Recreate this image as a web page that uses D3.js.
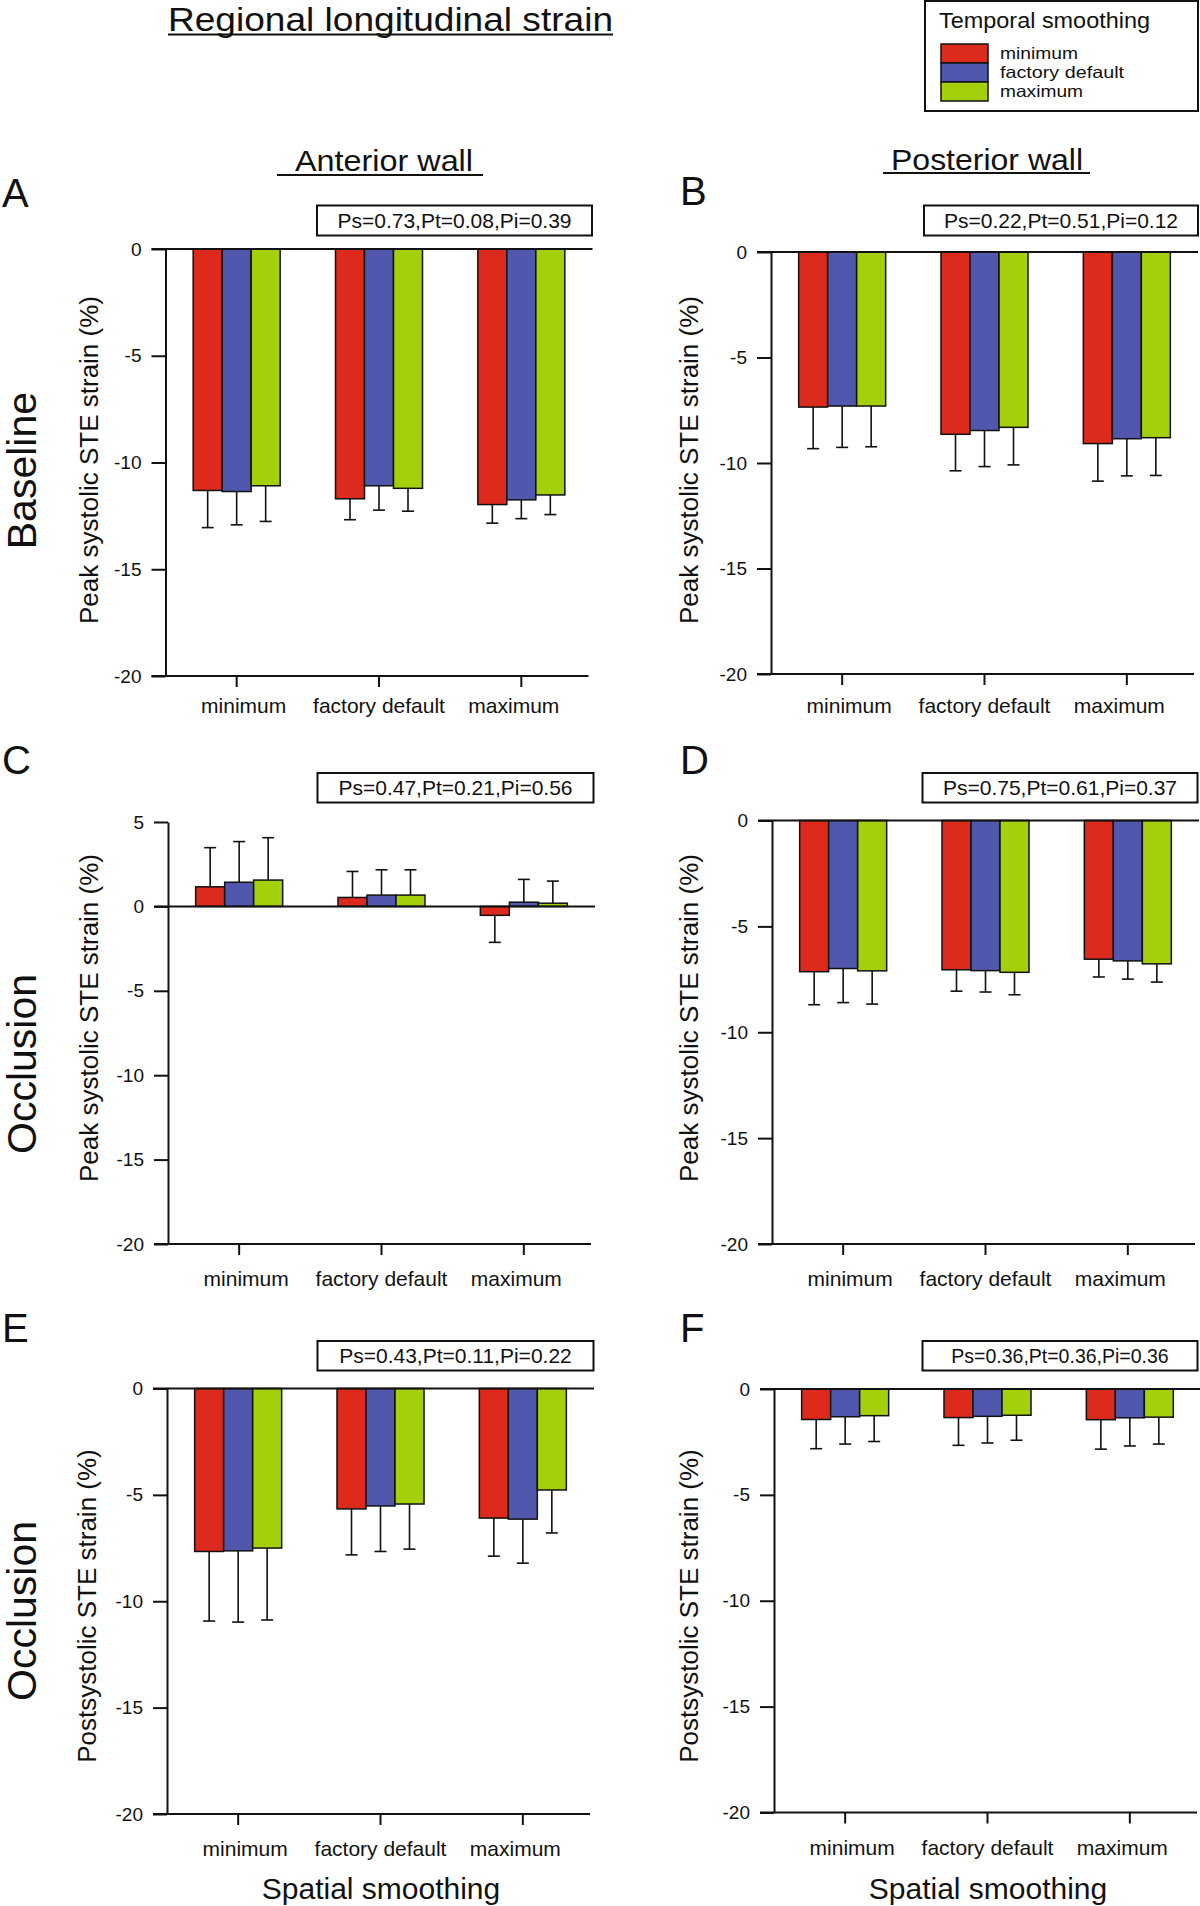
<!DOCTYPE html>
<html>
<head>
<meta charset="utf-8">
<script src="https://d3js.org/d3.v7.min.js"></script>
<style>
  body { margin: 0; background: #fff; }
  svg { font-family: "Liberation Sans", Arial, sans-serif; }
  text { fill: #111; }
</style>
</head>
<body>
<script>
// x categories = spatial smoothing, bar series = temporal smoothing
var categories = ["minimum", "factory default", "maximum"];
var series = ["minimum", "factory default", "maximum"];
var seriesColors = ["#dc2a1c", "#5257ae", "#a3cf0b"];

// mean strain (%) — one row per spatial level: [temporal min, default, max]
var meanA = [[-11.31, -11.36, -11.09], [-11.70, -11.09, -11.21], [-11.97, -11.75, -11.52]];
var sdA   = [[1.74, 1.56, 1.67], [0.98, 1.14, 1.07], [0.87, 0.88, 0.92]];
var meanB = [[-7.35, -7.30, -7.30], [-8.64, -8.46, -8.31], [-9.08, -8.85, -8.80]];
var sdB   = [[1.97, 1.96, 1.93], [1.73, 1.71, 1.78], [1.78, 1.76, 1.79]];
var meanC = [[1.16, 1.43, 1.56], [0.53, 0.67, 0.67], [-0.53, 0.25, 0.19]];
var sdC   = [[2.32, 2.41, 2.51], [1.54, 1.50, 1.50], [1.60, 1.35, 1.31]];
var meanD = [[-7.14, -6.99, -7.10], [-7.05, -7.09, -7.17], [-6.55, -6.63, -6.77]];
var sdD   = [[1.56, 1.61, 1.57], [1.01, 1.01, 1.06], [0.84, 0.86, 0.86]];
var meanE = [[-7.66, -7.63, -7.50], [-5.66, -5.52, -5.43], [-6.09, -6.14, -4.77]];
var sdE   = [[3.27, 3.35, 3.38], [2.16, 2.14, 2.12], [1.79, 2.07, 2.02]];
var meanF = [[-1.44, -1.31, -1.26], [-1.35, -1.29, -1.24], [-1.45, -1.36, -1.33]];
var sdF   = [[1.38, 1.29, 1.22], [1.31, 1.26, 1.18], [1.39, 1.33, 1.27]];

var pValues = ["Ps=0.73,Pt=0.08,Pi=0.39", "Ps=0.22,Pt=0.51,Pi=0.12",
               "Ps=0.47,Pt=0.21,Pi=0.56", "Ps=0.75,Pt=0.61,Pi=0.37",
               "Ps=0.43,Pt=0.11,Pi=0.22", "Ps=0.36,Pt=0.36,Pi=0.36"];
var yTicks = [0, -5, -10, -15, -20];
var yTicksPos = [5, 0, -5, -10, -15, -20];
var peakLabel = "Peak systolic STE strain (%)";
var postLabel = "Postsystolic STE strain (%)";

var width = 1200, height = 1906;
var svg = d3.select("body").append("svg")
  .attr("width", width)
  .attr("height", height);

// layout of the six panels
var panels = [
  {letter: "A", mean: meanA, sd: sdA, p: pValues[0], ylab: peakLabel, ticks: yTicks,
   x0: 165.5, yTop: 249, yBot: 676, lx: 2, ly: 207, labX: 98, labY: 460, box: [317, 205.5, 275, 30], catOff: 37, pfs: 21},
  {letter: "B", mean: meanB, sd: sdB, p: pValues[1], ylab: peakLabel, ticks: yTicks,
   x0: 771, yTop: 252, yBot: 674, lx: 680, ly: 205, labX: 698, labY: 460, box: [924, 205.5, 274, 30], catOff: 39, pfs: 21},
  {letter: "C", mean: meanC, sd: sdC, p: pValues[2], ylab: peakLabel, ticks: yTicksPos,
   x0: 168, yTop: 822, yBot: 1244, lx: 2, ly: 774, labX: 98, labY: 1018, box: [317.5, 773, 276, 29.5], catOff: 42, pfs: 21},
  {letter: "D", mean: meanD, sd: sdD, p: pValues[3], ylab: peakLabel, ticks: yTicks,
   x0: 772, yTop: 820.5, yBot: 1244, lx: 680, ly: 774, labX: 698, labY: 1018, box: [922.5, 773, 275, 29.5], catOff: 42, pfs: 21},
  {letter: "E", mean: meanE, sd: sdE, p: pValues[4], ylab: postLabel, ticks: yTicks,
   x0: 167, yTop: 1388.5, yBot: 1814, lx: 2, ly: 1342, labX: 96, labY: 1606, box: [317.5, 1341, 276, 29.5], catOff: 42, pfs: 21},
  {letter: "F", mean: meanF, sd: sdF, p: pValues[5], ylab: postLabel, ticks: yTicks,
   x0: 774, yTop: 1389, yBot: 1812.5, lx: 680, ly: 1342, labX: 698, labY: 1606, box: [922.5, 1341, 275, 29.5], catOff: 42, pfs: 19.5}
];

var plotW = 427;
var catFont = 21;
var labelShift = [7, 0, -7.5];   // category labels sit a bit inward of their ticks

panels.forEach(function(p) {
  var y = d3.scaleLinear().domain([-20, p.ticks[0]]).range([p.yBot, p.yTop]);
  var x = d3.scaleBand().domain(categories).range([p.x0, p.x0 + plotW]);
  var xs = d3.scaleBand().domain(series).range([-43.5, 43.5]);
  var g = svg.append("g");

  var rows = [];
  p.mean.forEach(function(r, ci) {
    r.forEach(function(v, si) {
      rows.push({cat: categories[ci], si: si, v: v, sd: p.sd[ci][si]});
    });
  });
  var bx = function(d) { return x(d.cat) + x.bandwidth() / 2 + xs(series[d.si]); };

  // error bars (drawn away from zero)
  var err = g.selectAll("g.err").data(rows).enter().append("g").attr("class", "err")
    .attr("stroke", "#111").attr("stroke-width", 1.6);
  err.append("line")
    .attr("x1", function(d) { return bx(d) + xs.bandwidth() / 2; })
    .attr("x2", function(d) { return bx(d) + xs.bandwidth() / 2; })
    .attr("y1", function(d) { return y(d.v); })
    .attr("y2", function(d) { return y(d.v + Math.sign(d.v) * d.sd); });
  err.append("line")
    .attr("x1", function(d) { return bx(d) + xs.bandwidth() / 2 - 6; })
    .attr("x2", function(d) { return bx(d) + xs.bandwidth() / 2 + 6; })
    .attr("y1", function(d) { return y(d.v + Math.sign(d.v) * d.sd); })
    .attr("y2", function(d) { return y(d.v + Math.sign(d.v) * d.sd); });

  g.selectAll("rect.bar").data(rows).enter().append("rect").attr("class", "bar")
    .attr("x", bx)
    .attr("width", xs.bandwidth())
    .attr("y", function(d) { return y(Math.max(d.v, 0)); })
    .attr("height", function(d) { return Math.abs(y(d.v) - y(0)); })
    .attr("fill", function(d) { return seriesColors[d.si]; })
    .attr("stroke", "#111")
    .attr("stroke-width", 1.5);

  // zero line and bottom line
  g.append("line").attr("x1", p.x0 - 14).attr("x2", p.x0 + plotW)
    .attr("y1", y(0)).attr("y2", y(0)).attr("stroke", "#111").attr("stroke-width", 2);
  g.append("line").attr("x1", p.x0 - 14).attr("x2", p.x0 + plotW - 4)
    .attr("y1", p.yBot).attr("y2", p.yBot).attr("stroke", "#111").attr("stroke-width", 2);

  var ya = g.append("g").attr("transform", "translate(" + p.x0 + ",0)")
    .call(d3.axisLeft(y).tickValues(p.ticks).tickSize(14).tickSizeOuter(0).tickPadding(10)
      .tickFormat(function(d) { return String(d); }));
  ya.selectAll("path, line").attr("stroke", "#111").attr("stroke-width", 2);
  ya.selectAll("text").attr("font-size", 19).attr("fill", "#111");
  ya.attr("font-family", null).attr("font-size", null);

  var xa = g.append("g").attr("transform", "translate(0," + p.yBot + ")")
    .call(d3.axisBottom(x).tickSize(11).tickSizeOuter(0)
      .tickPadding(p.catOff - 11 - 0.71 * catFont));
  xa.select(".domain").remove();
  xa.selectAll("line").attr("stroke", "#111").attr("stroke-width", 2);
  xa.selectAll("text").attr("font-size", catFont).attr("fill", "#111")
    .attr("dx", function(d, i) { return labelShift[i]; });
  xa.attr("font-family", null).attr("font-size", null);

  // y axis title
  g.append("text")
    .attr("transform", "translate(" + p.labX + "," + p.labY + ") rotate(-90)")
    .attr("text-anchor", "middle")
    .attr("font-size", 26)
    .text(p.ylab);

  // panel letter
  g.append("text").attr("x", p.lx).attr("y", p.ly)
    .attr("font-size", 40).text(p.letter);

  // p-value box
  g.append("rect")
    .attr("x", p.box[0]).attr("y", p.box[1])
    .attr("width", p.box[2]).attr("height", p.box[3])
    .attr("fill", "#fff").attr("stroke", "#111").attr("stroke-width", 2);
  g.append("text")
    .attr("x", p.box[0] + p.box[2] / 2).attr("y", p.box[1] + p.box[3] / 2 + 7.5)
    .attr("text-anchor", "middle").attr("font-size", p.pfs)
    .text(p.p);
});

// row labels
var rowLabels = [{t: "Baseline", y: 470.6}, {t: "Occlusion", y: 1064}, {t: "Occlusion", y: 1611}];
svg.selectAll("text.row").data(rowLabels).enter().append("text").attr("class", "row")
  .attr("transform", function(d) { return "translate(35.5," + d.y + ") rotate(-90)"; })
  .attr("text-anchor", "middle")
  .attr("font-size", 41)
  .text(function(d) { return d.t; });

// title and column headings, underlined
function heading(txt, x, y, fs, len, ux1, ux2, uy) {
  svg.append("text").attr("x", x).attr("y", y)
    .attr("font-size", fs)
    .attr("textLength", len).attr("lengthAdjust", "spacingAndGlyphs")
    .text(txt);
  svg.append("line").attr("x1", ux1).attr("x2", ux2).attr("y1", uy).attr("y2", uy)
    .attr("stroke", "#111").attr("stroke-width", 2);
}
heading("Regional longitudinal strain", 168, 31, 33, 445, 168, 613, 34.5);
heading("Anterior wall", 295, 171, 29.5, 178, 277, 483, 175);
heading("Posterior wall", 891, 170, 29.5, 192, 883, 1090, 173);

// x axis titles
[381, 988].forEach(function(cx) {
  svg.append("text").attr("x", cx).attr("y", 1899)
    .attr("text-anchor", "middle").attr("font-size", 30)
    .text("Spatial smoothing");
});

// legend
var legWidths = [78, 124, 83];
var leg = svg.append("g");
leg.append("rect").attr("x", 925).attr("y", 1).attr("width", 273).attr("height", 110)
  .attr("fill", "#fff").attr("stroke", "#111").attr("stroke-width", 2);
leg.append("text").attr("x", 939).attr("y", 28).attr("font-size", 22)
  .attr("textLength", 211).attr("lengthAdjust", "spacingAndGlyphs")
  .text("Temporal smoothing");
leg.selectAll("rect.sw").data(series).enter().append("rect").attr("class", "sw")
  .attr("x", 941)
  .attr("y", function(d, i) { return 44 + i * 19; })
  .attr("width", 47).attr("height", 19)
  .attr("fill", function(d, i) { return seriesColors[i]; })
  .attr("stroke", "#111").attr("stroke-width", 1.5);
leg.selectAll("text.item").data(series).enter().append("text").attr("class", "item")
  .attr("x", 1000)
  .attr("y", function(d, i) { return 59 + i * 19; })
  .attr("font-size", 16.5)
  .attr("textLength", function(d, i) { return legWidths[i]; })
  .attr("lengthAdjust", "spacingAndGlyphs")
  .text(function(d) { return d; });
</script>
</body>
</html>
